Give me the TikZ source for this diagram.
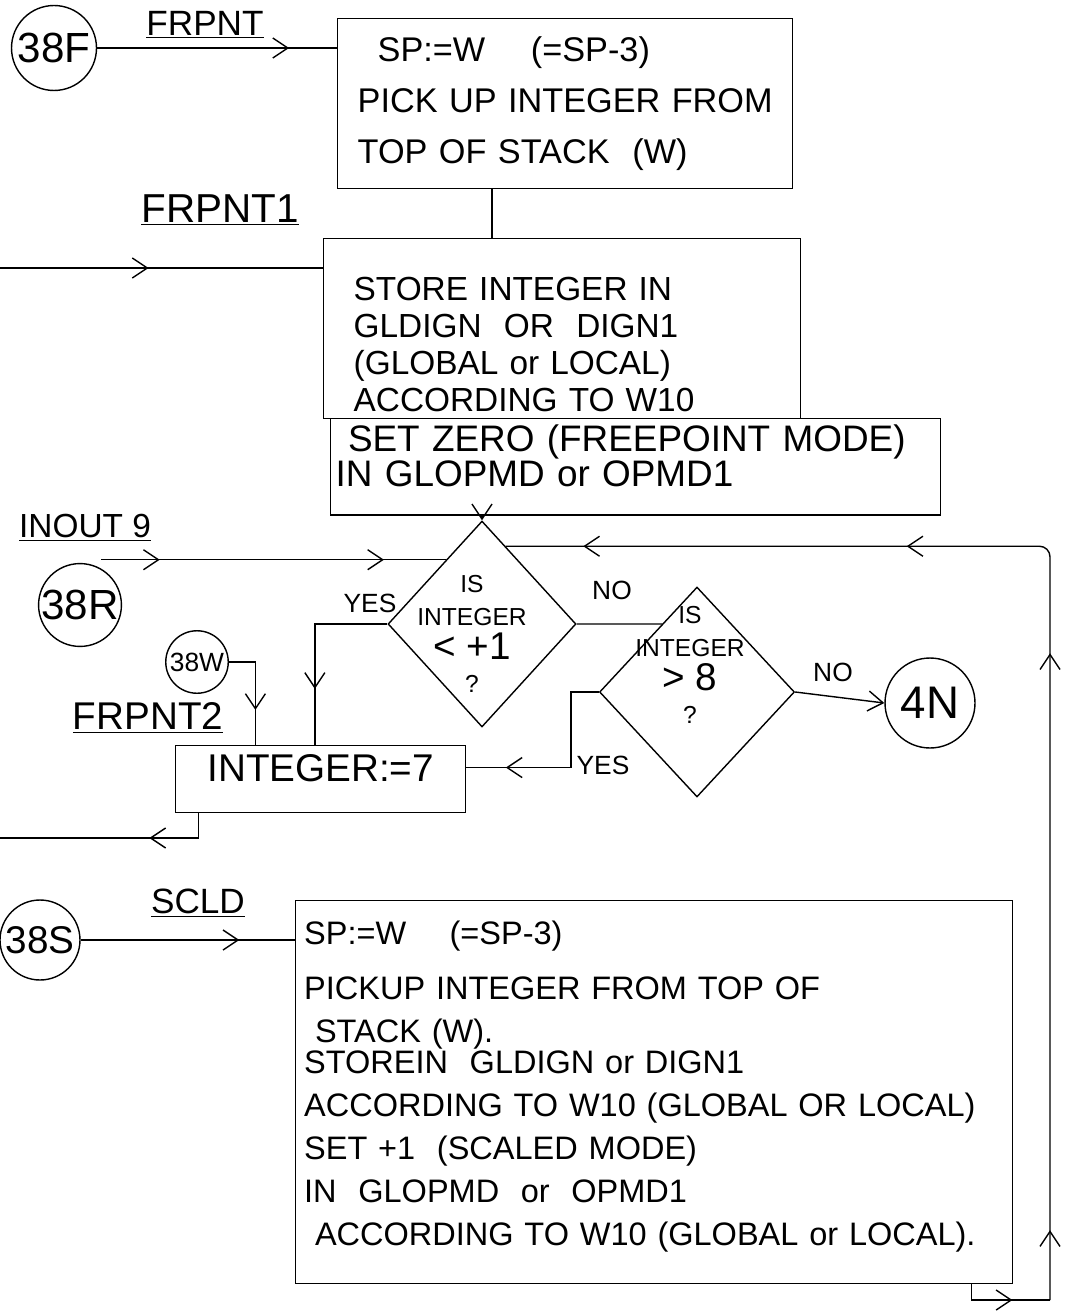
\documentclass[tikz,border=0pt]{standalone}
\usepackage{fontspec}
\setmainfont{Liberation Sans}
\usetikzlibrary{shapes.geometric, arrows.meta, positioning, calc, decorations.markings}

\begin{document}
\begin{tikzpicture}[x=0.02cm, y=-0.02cm, line width=0.8pt,
    every node/.style={font=\fontsize{20}{24}\selectfont},
    procbox/.style={draw, anchor=north west, align=left, inner xsep=0.5cm},
    conn/.style={draw, circle, inner sep=0pt, minimum size=#1},
    decision/.style={draw, diamond, inner sep=0pt},
    small/.style={font=\fontsize{15}{18}\selectfont},
    flowat/.style={postaction={decorate, decoration={markings,
        mark=at position #1 with {\arrow{Straight Barb[length=3mm, width=4mm]}}}}},
    flowend/.style={-{Straight Barb[length=3mm, width=4mm]}}]
    \useasboundingbox (0,0) rectangle (1072,1311);

    % Eingaenge FRPNT / FRPNT1
    \node[conn=1.7cm, font=\fontsize{24}{24}\selectfont] (c38F) at (54,48) {38F};
    \node (lFRPNT) at (205,25) {\underline{FRPNT}};
    \node[procbox, inner xsep=0.3cm, text width=8.5cm, minimum height=3.4cm, font=\fontsize{19.5}{29}\selectfont] (pick) at (337,18)
        {\hspace{0.5cm}SP:=W \quad (=SP-3)\\\hspace{0.1cm}PICK UP INTEGER FROM\\\hspace{0.1cm}TOP OF STACK \ (W)};
    \node[font=\fontsize{23}{24}\selectfont] (lFRPNTa) at (220,210) {\underline{FRPNT1}};
    \coordinate (inFR1) at (0,268);
    \node[procbox, inner xsep=0.6cm, text width=8.34cm, minimum height=3.6cm, font=\fontsize{19}{21}\selectfont] (store) at (323,238)
        {\rule{0pt}{1.1cm}STORE INTEGER IN\\GLDIGN \ OR \ DIGN1\\(GLOBAL or LOCAL)\\ACCORDING TO W10};
    \node[procbox, inner xsep=0.1cm, text width=12cm, minimum height=1.88cm, font=\fontsize{21}{19}\selectfont] (setzero) at (330,418)
        {\ SET ZERO (FREEPOINT MODE)\\IN GLOPMD or OPMD1\rule[-0.45cm]{0pt}{0.45cm}};

    % Abfragen
    \node[decision, minimum width=3.76cm, minimum height=4.12cm] (d1) at (482,624) {};
    \node[align=center, font=\fontsize{14}{19}\selectfont] (d1txt) at (472,634)
        {IS\\INTEGER\\{\fontsize{22}{22}\selectfont < +1}\\?};
    \node[decision, minimum width=3.9cm, minimum height=4.2cm] (d2) at (697,692) {};
    \node[align=center, font=\fontsize{14}{19}\selectfont] (d2txt) at (690,665)
        {IS\\INTEGER\\{\fontsize{22}{22}\selectfont > 8}\\?};
    \node[conn=1.8cm, font=\fontsize{26}{26}\selectfont] (c4N) at (930,703) {4N};

    % INOUT 9 / 38W / FRPNT2
    \node[font=\fontsize{19}{24}\selectfont] (lINOUT) at (85,528) {\underline{INOUT 9}};
    \node[conn=1.6cm, font=\fontsize{24}{24}\selectfont] (c38R) at (80,605) {38R};
    \node[conn=1.25cm, font=\fontsize{15}{15}\selectfont] (c38W) at (197,662) {38W};
    \node[font=\fontsize{22}{24}\selectfont] (lFRPNTb) at (148,718) {\underline{FRPNT2}};
    \node[procbox, minimum width=5.8cm, minimum height=1.34cm, text height=0.55cm, text depth=0.45cm,
        font=\fontsize{22}{24}\selectfont] (seven) at (175,745) {INTEGER:=7};
    \coordinate (outFR) at (0,838);

    \node[small] (yes1) at (370,603) {YES};
    \node[small] (no1) at (612,590) {NO};
    \node[small] (no2) at (833,672) {NO};
    \node[small] (yes2) at (603,765) {YES};

    % Eingang SCLD
    \node[conn=1.6cm, font=\fontsize{22}{22}\selectfont] (c38S) at (40,940) {38S};
    \node (lSCLD) at (198,903) {\underline{SCLD}};
    \node[procbox, inner xsep=0.17cm, text width=14cm, minimum height=7.66cm, font=\fontsize{18.5}{24.5}\selectfont] (scld) at (295,900)
        {SP:=W \quad (=SP-3)\\[6.5pt]
         PICKUP INTEGER FROM TOP OF\\
         \ STACK (W).\\[-6.5pt]
         STOREIN \ GLDIGN or DIGN1\\
         ACCORDING TO W10 (GLOBAL OR LOCAL)\\
         SET +1 \ (SCALED MODE)\\
         IN \ GLOPMD \ or \ OPMD1\\
         \ ACCORDING TO W10 (GLOBAL or LOCAL).\rule[-0.35cm]{0pt}{0.35cm}};
    \coordinate (rtB) at (1050,1300);

    % Verbindungen
    \draw[flowat=0.8] (c38F.east) -- (c38F.east -| pick.west);
    \draw ($(pick.south west)!0.34!(pick.south east)$) coordinate (pk) -- (pk |- store.north);
    \draw[flowat=0.46] (inFR1) -- (inFR1 -| store.west);
    \draw[flowend] (setzero.south -| d1.north) -- (d1.north);
    \coordinate (in9) at ($(d1.west)!0.62!(d1.north)$);
    \draw[flowat=0.17, flowat=0.82] (c38R.60 |- in9) -- (in9);
    \coordinate (e1) at (d1.east -| d2.east);
    \draw (d1.east) -- (intersection of d1.east--e1 and d2.west--d2.north);
    \draw[flowend] (d2.east) -- (c4N.west);
    \draw[flowat=0.71] (d1.west) -| ($(seven.north west)!0.48!(seven.north east)$);
    \draw[flowat=0.68] (c38W.east) -| ($(seven.north west)!0.276!(seven.north east)$);
    \draw[flowat=0.81] (d2.west) -- ++(-28,0) |- ($(seven.north east)!0.33!(seven.south east)$);
    \draw[flowat=0.33] ($(seven.south west)!0.08!(seven.south east)$) |- (outFR);
    \draw[flowat=0.74] (c38S.east) -- (c38S.east -| scld.west);
    % Ruecksprung
    \coordinate (ret) at ($(d1.north)!0.25!(d1.east)$);
    \draw[flowat=0.6] ($(scld.south west)!0.942!(scld.south east)$) coordinate (lpA) -- (lpA |- rtB) -- (rtB);
    \draw[rounded corners=6pt, flowat=0.054, flowat=0.5, flowat=0.69, flowat=0.94]
        (rtB) -- (rtB |- ret) -- (ret);
\end{tikzpicture}
\end{document}
